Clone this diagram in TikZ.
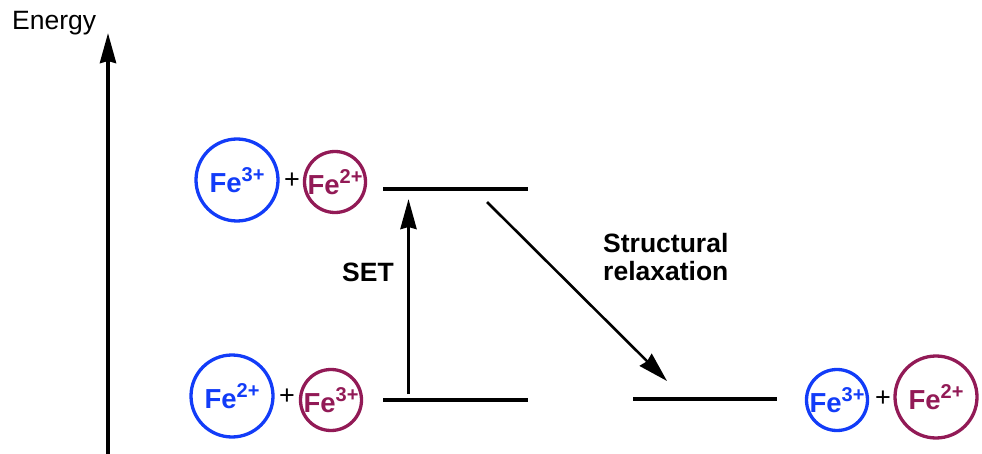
\documentclass[tikz,border=0pt]{standalone}
\usepackage{fontspec}
\setmainfont{Liberation Sans}
\usetikzlibrary{arrows.meta}
\definecolor{feblue}{RGB}{18,60,248}
\definecolor{fepurple}{RGB}{146,26,86}
\newcommand{\ionlabel}[1]{Fe\raisebox{11pt}{\fontsize{20}{20}\selectfont #1}}
\tikzset{
  x=1pt, y=-1pt,
  ionfont/.style={font=\bfseries\fontsize{27.5}{30}\selectfont},
  bigion/.style={circle, draw, line width=3.3pt, inner sep=0pt, minimum size=82pt, ionfont},
  smallion/.style={circle, draw, line width=3.3pt, inner sep=0pt, minimum size=61pt, ionfont},
  blueion/.style={draw=feblue, text=feblue},
  purpleion/.style={draw=fepurple, text=fepurple},
  plussign/.style={font=\fontsize{27}{30}\selectfont, inner sep=0pt},
  level/.style={line width=3.4pt},
  bigarrow/.style={line width=3.4pt, -{Stealth[length=30pt, width=16pt, inset=2pt]}},
  diagarrow/.style={line width=2.6pt, -{Stealth[length=30pt, width=17pt, inset=2pt]}},
  labeltext/.style={font=\bfseries\fontsize{26.5}{27}\selectfont, inner sep=0pt, anchor=base west}
}
\begin{document}
\begin{tikzpicture}
\useasboundingbox (0,0) rectangle (982,454);
% energy axis
\coordinate (axbot) at (108,456);
\coordinate (axtop) at (108,33);
\draw[bigarrow, line width=3.8pt] (axbot) -- (axtop);
\node[font=\fontsize{26.5}{28}\selectfont, inner sep=0pt, anchor=base west] (energy) at (12,30) {Energy};
% top left pair
\node[bigion, blueion] (tb) at (237,180) {\ionlabel{3+}};
\node[plussign] (tplus) at (292,181) {+};
\node[smallion, purpleion] (tp) at (335,182) {\ionlabel{2+}};
% bottom left pair
\node[bigion, blueion] (bb) at (232,396) {\ionlabel{2+}};
\node[plussign] (bplus) at (287,397) {+};
\node[smallion, purpleion] (bp) at (331,400) {\ionlabel{3+}};
% bottom right pair
\node[smallion, blueion] (rb) at (837,400) {\ionlabel{3+}};
\node[plussign] (rplus) at (883,399) {+};
\node[bigion, purpleion] (rp) at (936,397) {\ionlabel{2+}};
% levels
\coordinate (t1) at (383,189); \coordinate (t2) at (528,189);
\coordinate (b1) at (383,400); \coordinate (b2) at (528,400);
\coordinate (r1) at (633,399); \coordinate (r2) at (777,399);
\draw[level] (t1) -- (t2);
\draw[level] (b1) -- (b2);
\draw[level] (r1) -- (r2);
% SET arrow
\coordinate (s1) at (408.5,394);
\coordinate (s2) at (408.5,199);
\draw[bigarrow] (s1) -- (s2);
\node[labeltext] (set) at (342,281) {SET};
% relaxation arrow
\coordinate (d1) at (487,202);
\coordinate (d2) at (667,381);
\draw[diagarrow] (d1) -- (d2);
\node[labeltext] (rel1) at (603,253) {Structural};
\node[labeltext] (rel2) at (603,280) {relaxation};
\end{tikzpicture}
\end{document}
